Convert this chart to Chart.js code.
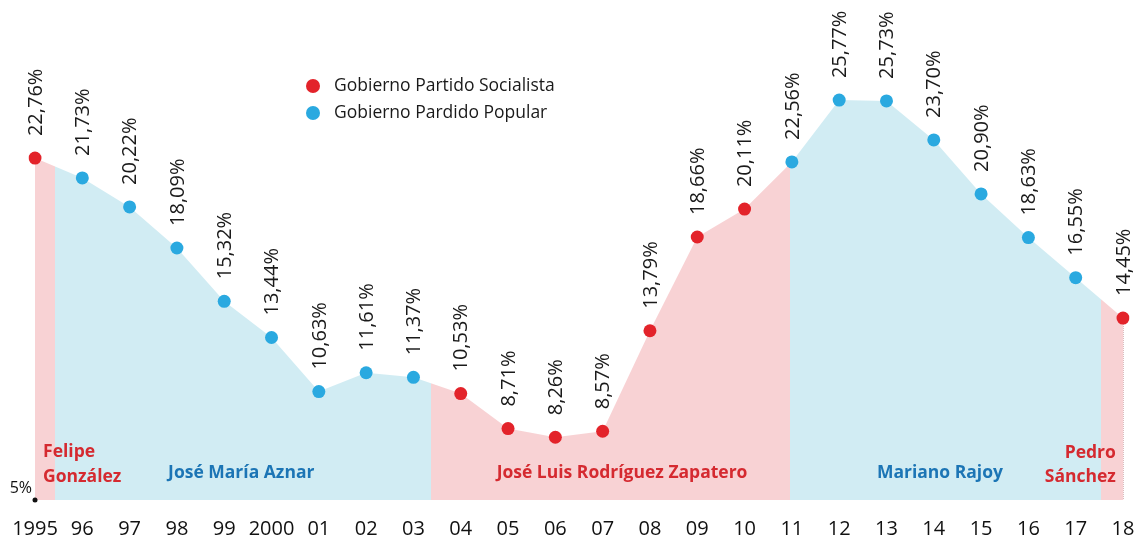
<!DOCTYPE html>
<html>
<head>
<meta charset="utf-8">
<script src="https://cdn.jsdelivr.net/npm/chart.js@4.4.0/dist/chart.umd.min.js"></script>
<style>
  html, body { margin: 0; padding: 0; background: #fff; }
  #wrap { width: 1139px; height: 541px; position: relative; }
</style>
</head>
<body>
<div id="wrap"><canvas id="chart" width="1139" height="541"></canvas></div>
<script>
// Data
const years = ['1995', '96', '97', '98', '99', '2000', '01', '02', '03', '04', '05', '06',
               '07', '08', '09', '10', '11', '12', '13', '14', '15', '16', '17', '18'];
const values = [22.76, 21.73, 20.22, 18.09, 15.32, 13.44, 10.63, 11.61, 11.37, 10.53, 8.71, 8.26,
                8.57, 13.79, 18.66, 20.11, 22.56, 25.77, 25.73, 23.70, 20.90, 18.63, 16.55, 14.45];
// governing party per year: S = Partido Socialista, P = Partido Popular
const party = ['S', 'P', 'P', 'P', 'P', 'P', 'P', 'P', 'P', 'S', 'S', 'S',
               'S', 'S', 'S', 'S', 'P', 'P', 'P', 'P', 'P', 'P', 'P', 'S'];
// terms of office, in year-index units along the x axis
const termNames = [['Felipe', 'González'], ['José María Aznar'], ['José Luis Rodríguez Zapatero'], ['Mariano Rajoy'], ['Pedro', 'Sánchez']];
const termStart = [0, 0.42, 8.37, 15.97, 22.53];
const termEnd = [0.42, 8.37, 15.97, 22.53, 23];
const termParty = ['S', 'P', 'S', 'P', 'S'];
const legendLabels = ['Gobierno Partido Socialista', 'Gobierno Pardido Popular'];

const RED = '#e3232a';
const BLUE = '#2aa9e0';
const PINK_FILL = '#f8d2d4';
const BLUE_FILL = '#d1ecf3';
const RED_TEXT = '#d52a30';
const BLUE_TEXT = '#1c75b5';
const FONT = '"Open Sans", sans-serif';

// where each term name sits (x in index units, y in px from the bottom of the plot)
const termLabelPos = [
  { x: 0.17, align: 'left', y: [-43, -18] },
  { x: 4.36, align: 'center', y: [-22] },
  { x: 12.41, align: 'center', y: [-22] },
  { x: 19.13, align: 'center', y: [-22] },
  { x: 22.85, align: 'right', y: [-42, -18] }
];

function fillGradient(context) {
  const chart = context.chart;
  const area = chart.chartArea;
  if (!area) return BLUE_FILL;
  const x = chart.scales.x;
  const g = chart.ctx.createLinearGradient(area.left, 0, area.right, 0);
  const w = area.right - area.left;
  termStart.forEach((s, i) => {
    const c = termParty[i] === 'S' ? PINK_FILL : BLUE_FILL;
    const a = Math.min(1, Math.max(0, (x.getPixelForValue(s) - area.left) / w));
    const b = Math.min(1, Math.max(0, (x.getPixelForValue(termEnd[i]) - area.left) / w));
    g.addColorStop(a, c);
    g.addColorStop(b, c);
  });
  return g;
}

// drop lines under the points, labels and legend on top
const overlay = {
  id: 'overlay',
  beforeDatasetsDraw(chart) {
    const ctx = chart.ctx;
    const meta = chart.getDatasetMeta(0);
    const bottom = chart.chartArea.bottom;
    ctx.save();
    ctx.lineWidth = 1;
    ctx.setLineDash([1, 1]);
    meta.data.forEach((pt, i) => {
      ctx.strokeStyle = party[i] === 'S' ? 'rgba(180,110,115,0.5)' : 'rgba(90,140,165,0.5)';
      ctx.beginPath();
      ctx.moveTo(Math.round(pt.x) + 0.5, pt.y);
      ctx.lineTo(Math.round(pt.x) + 0.5, bottom);
      ctx.stroke();
    });
    ctx.restore();
  },
  afterDatasetsDraw(chart) {
    const ctx = chart.ctx;
    const meta = chart.getDatasetMeta(0);
    const area = chart.chartArea;
    const xs = chart.scales.x;
    ctx.save();
    // value labels, rotated
    ctx.fillStyle = '#1a1a1a';
    ctx.font = '20px ' + FONT;
    ctx.textAlign = 'left';
    ctx.textBaseline = 'middle';
    meta.data.forEach((pt, i) => {
      ctx.save();
      ctx.translate(pt.x, pt.y - 22);
      ctx.rotate(-Math.PI / 2);
      ctx.fillText(values[i].toFixed(2).replace('.', ',') + '%', 0, 1);
      ctx.restore();
    });
    // term names
    ctx.font = 'bold 17.5px ' + FONT;
    ctx.textBaseline = 'alphabetic';
    termNames.forEach((lines, i) => {
      const p = termLabelPos[i];
      ctx.fillStyle = termParty[i] === 'S' ? RED_TEXT : BLUE_TEXT;
      ctx.textAlign = p.align;
      lines.forEach((ln, j) => {
        ctx.fillText(ln, xs.getPixelForValue(p.x), area.bottom + p.y[j]);
      });
    });
    // 5% base marker
    ctx.fillStyle = '#111';
    ctx.font = '16px ' + FONT;
    ctx.textAlign = 'right';
    ctx.fillText(chart.scales.y.min + '%', area.left - 3, area.bottom - 7);
    ctx.beginPath();
    ctx.arc(area.left, area.bottom, 2.5, 0, Math.PI * 2);
    ctx.fill();
    // legend
    ctx.font = '17.5px ' + FONT;
    ctx.textAlign = 'left';
    ctx.textBaseline = 'middle';
    [RED, BLUE].forEach((c, i) => {
      const y = 86 + i * 27;
      ctx.fillStyle = c;
      ctx.beginPath();
      ctx.arc(313, y, 7, 0, Math.PI * 2);
      ctx.fill();
      ctx.fillStyle = '#1a1a1a';
      ctx.fillText(legendLabels[i], 334, y);
    });
    ctx.restore();
  }
};

new Chart(document.getElementById('chart'), {
  type: 'line',
  data: {
    labels: years,
    datasets: [{
      data: values,
      fill: 'start',
      backgroundColor: fillGradient,
      borderWidth: 0,
      borderColor: 'rgba(0,0,0,0)',
      tension: 0,
      pointRadius: 6.5,
      pointBorderWidth: 0,
      pointBackgroundColor: party.map(p => p === 'S' ? RED : BLUE)
    }]
  },
  options: {
    responsive: false,
    animation: false,
    layout: { autoPadding: false, padding: { left: 35, right: 16, top: 0, bottom: 0 } },
    plugins: { legend: { display: false }, tooltip: { enabled: false } },
    scales: {
      x: {
        offset: false,
        grid: { display: false, drawTicks: false },
        border: { display: false },
        ticks: { color: '#111', font: { family: FONT, size: 20 }, padding: 17, maxRotation: 0, autoSkip: false },
        afterFit(scale) {
          scale.height = 41;
          scale.paddingLeft = 0;
          scale.paddingRight = 0;
        }
      },
      y: { display: false, min: 5, max: 30.97 }
    }
  },
  plugins: [overlay]
});
</script>
</body>
</html>
